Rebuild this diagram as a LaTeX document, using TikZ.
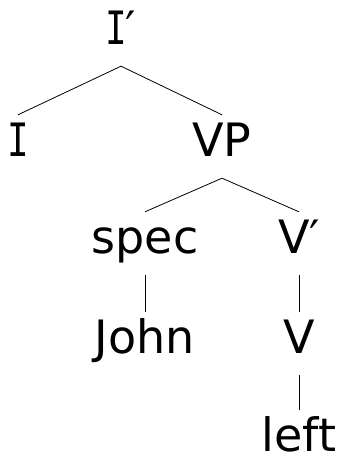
\documentclass[tikz,border=0pt]{standalone}
\usepackage{graphicx}
\usepackage{fontspec}
\setmainfont{DejaVu Sans}
\newfontfamily\monoI{DejaVu Sans Mono}
% serifed capital I, narrowed
\newcommand{\capI}{\scalebox{0.78}[1]{\monoI I}}

\begin{document}
\begin{tikzpicture}[x=1pt, y=1pt,
    cat/.style={anchor=base, inner sep=0pt, text height=42pt, text depth=21pt,
                font=\fontsize{46}{50}\selectfont},
    branch/.style={line width=0.8pt}]
    \useasboundingbox (0,0) rectangle (343,459);

    % Top node and its daughters
    \node[cat] (ibar) at (121, 414) {\capI\kern-2pt′};
    \node[cat] (i) at (18, 302) {\capI};
    \node[cat] (vp) at (222, 302) {VP};

    % Inside the VP
    \node[cat] (spec) at (145, 205) {spec};
    \node[cat] (vbar) at (299, 205) {V′};
    \node[cat] (john) at (145, 105) {John};
    \node[cat] (v) at (299, 105) {V};
    \node[cat, text depth=0pt] (left) at (299, 7) {left};

    % Draw the branches
    \draw[branch] (i.north) -- (ibar.south) -- (vp.north);
    \draw[branch] (spec.north) -- (vp.south) -- (vbar.north);
    \draw[branch] (spec.south) -- (john.north);
    \draw[branch] (vbar.south) -- (v.north);
    \draw[branch] (v.south) -- (left.north);
\end{tikzpicture}
\end{document}
